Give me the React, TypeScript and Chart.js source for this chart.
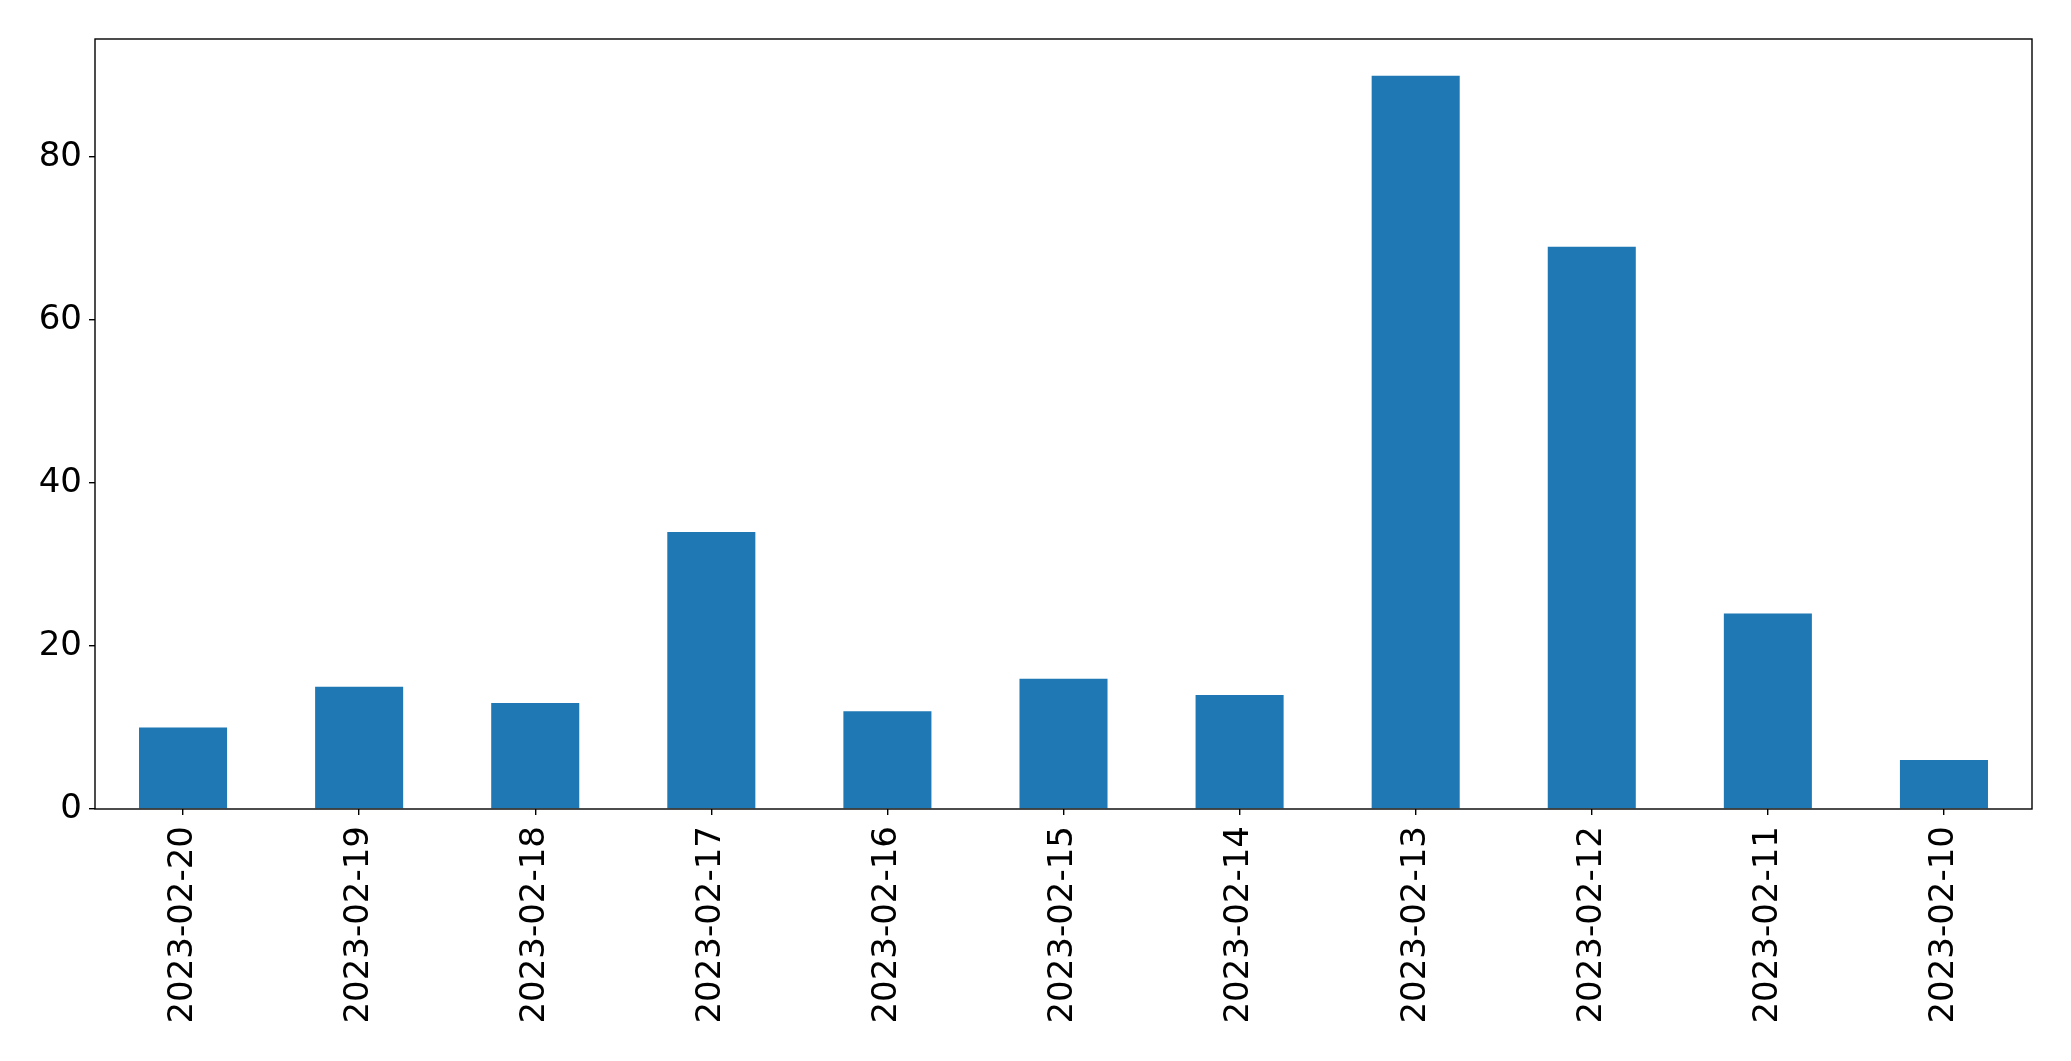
import React, { useEffect, useRef } from "react";
import { Chart, registerables } from "chart.js";

Chart.register(...registerables);

const categories = [
  "2023-02-20", "2023-02-19", "2023-02-18", "2023-02-17", "2023-02-16", "2023-02-15",
  "2023-02-14", "2023-02-13", "2023-02-12", "2023-02-11", "2023-02-10",
];
const values = [10, 15, 13, 34, 12, 16, 14, 90, 69, 24, 6];
const yTicks = [0, 20, 40, 60, 80];

const frame = {
  id: "frame",
  afterDraw(chart: any) {
    const { ctx, chartArea } = chart;
    ctx.save();
    ctx.strokeStyle = "#000";
    ctx.lineWidth = 1.4;
    ctx.strokeRect(chartArea.left, chartArea.top, chartArea.right - chartArea.left, chartArea.bottom - chartArea.top);
    ctx.restore();
  },
};

export default function App() {
  const ref = useRef<HTMLCanvasElement>(null);
  useEffect(() => {
    const font = { family: "'DejaVu Sans'", size: 34 };
    const chart = new Chart(ref.current!, {
      type: "bar",
      data: {
        labels: categories,
        datasets: [{ data: values, backgroundColor: "#1f77b4", categoryPercentage: 1, barPercentage: 0.5 }],
      },
      options: {
        animation: false,
        responsive: false,
        maintainAspectRatio: false,
        layout: { padding: { left: 0, top: 39, right: 39, bottom: 0 } },
        plugins: { legend: { display: false }, tooltip: { enabled: false } },
        scales: {
          x: {
            grid: { display: true, drawOnChartArea: false, drawTicks: true, tickLength: 6, color: "#000", offset: false, lineWidth: 1.4 },
            border: { display: false },
            ticks: { font, color: "#000", minRotation: 90, maxRotation: 90, padding: 11, autoSkip: false },
            afterFit(scale: any) { scale.height = 252; },
          },
          y: {
            min: 0,
            max: 94.5,
            grid: { display: true, drawOnChartArea: false, drawTicks: true, tickLength: 6, color: "#000", lineWidth: 1.4 },
            border: { display: false },
            ticks: { font, color: "#000", padding: 7 },
            afterBuildTicks(scale: any) { scale.ticks = yTicks.map((v) => ({ value: v })); },
            afterFit(scale: any) { scale.width = 95; },
          },
        },
      },
      plugins: [frame],
    });
    return () => chart.destroy();
  }, []);
  return (
    <div style={{ position: "fixed", left: 0, top: 0, width: 2071, height: 1061, background: "#fff" }}>
      <canvas ref={ref} width={2071} height={1061} style={{ width: 2071, height: 1061 }} />
    </div>
  );
}
